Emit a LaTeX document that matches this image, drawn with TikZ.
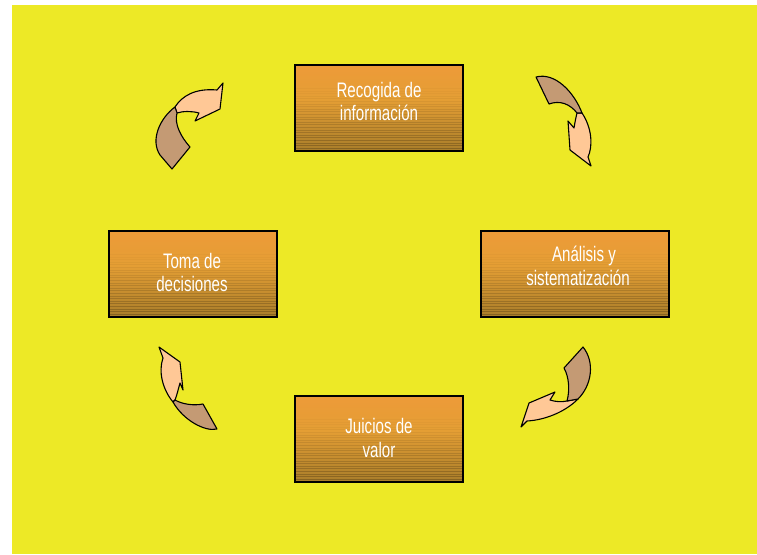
\documentclass[tikz,border=0pt]{standalone}
\usepackage{fontspec}
\setmainfont[FakeStretch=0.72]{Liberation Sans}
\definecolor{bgyellow}{RGB}{237,233,38}
\definecolor{btop}{RGB}{248,150,62}
\definecolor{bmidA}{RGB}{228,158,52}
\definecolor{bmidB}{RGB}{170,126,42}
\definecolor{bbot}{RGB}{96,64,26}
\definecolor{tailbrown}{RGB}{196,154,116}
\definecolor{headpeach}{RGB}{255,200,150}
\pgfdeclareverticalshading{boxshade}{100bp}{color(0bp)=(bbot); color(25bp)=(bmidB); color(55bp)=(bmidA); color(100bp)=(btop)}
\tikzset{
  stepbox/.style={line width=1.6pt, shading=boxshade, rectangle, minimum width=166pt, minimum height=84pt, inner sep=0pt},
  boxtext/.style={text=white, font=\fontsize{21}{23.5}\selectfont, align=center, inner sep=0pt},
  tailpart/.style={fill=tailbrown, draw=black, line width=1.1pt, line join=round},
  headpart/.style={fill=headpeach, draw=black, line width=1.1pt, line join=round},
  stripe/.style={line width=0.9pt, draw=black}
}
\begin{document}
\begin{tikzpicture}[x=1pt,y=-1pt]
\useasboundingbox (0,0) rectangle (757,554);
\fill[bgyellow] (12,5) rectangle (757,554);
% boxes
\node[stepbox] (recog) at (379,108) {};
\node[stepbox, minimum width=186pt] (anal) at (575,274) {};
\node[stepbox] (toma) at (193,274) {};
\node[stepbox] (juic) at (379,439) {};
\foreach \b in {recog,anal,toma,juic}{
  \foreach \k in {1,...,24}{
    \pgfmathsetmacro{\op}{max(0.02,0.22-0.009*\k)}
    \draw[stripe, opacity=\op] ([yshift=\k*2.6pt]\b.south west) -- ([yshift=\k*2.6pt]\b.south east);
  }
  \draw[line width=1.6pt] (\b.south west) rectangle (\b.north east);
}
\node[boxtext] (trecog) at (379,101.5) {Recogida de\\información};
\node[boxtext] (tanal) at (578,266) {\hspace*{12pt}Análisis y\\sistematización};
\node[boxtext] (ttoma) at (192,272.5) {Toma de\\decisiones};
\node[boxtext] (tjuic) at (379,438) {Juicios de\\valor};
% top-right arrow
\draw[headpart] (582,113) .. controls (592,128) and (593,146) .. (588,157) -- (591,166) -- (570,150) -- (568,121) -- (574,128) .. controls (575,122) and (576,117) .. (577,113) -- cycle;
\draw[tailpart] (536,77) .. controls (555,72) and (574,92) .. (582,113) -- (577,113) .. controls (570,104) and (560,100) .. (549,104) -- cycle;
% bottom-right arrow
\draw[headpart] (578,399) .. controls (565,412) and (545,420) .. (527,421) -- (521,427) -- (529,403) -- (555,392) -- (550,400) .. controls (556,402) and (562,402) .. (567,401) -- cycle;
\draw[tailpart] (583,347) .. controls (595,362) and (592,385) .. (578,399) -- (567,401) .. controls (570,390) and (569,377) .. (564,368) -- cycle;
% bottom-left arrow
\draw[headpart] (159,347) -- (180,362) -- (183,390) -- (180,383) .. controls (178,390) and (177,395) .. (175,400) -- (173,402) .. controls (163,390) and (158,372) .. (163,358) -- cycle;
\draw[tailpart] (217,429) -- (203,404) .. controls (193,406) and (182,404) .. (175,400) -- (173,402) .. controls (183,420) and (205,432) .. (217,429) -- cycle;
% top-left arrow
\draw[headpart] (223,83) -- (220,109) -- (195,121) -- (199,113) .. controls (192,111) and (183,111) .. (177,113) -- (175,107) .. controls (182,96) and (195,88) .. (217,90) -- cycle;
\draw[tailpart] (175,107) .. controls (160,118) and (150,140) .. (160,155) -- (172,169) -- (190,147) .. controls (181,137) and (174,124) .. (177,113) -- cycle;
\end{tikzpicture}
\end{document}
